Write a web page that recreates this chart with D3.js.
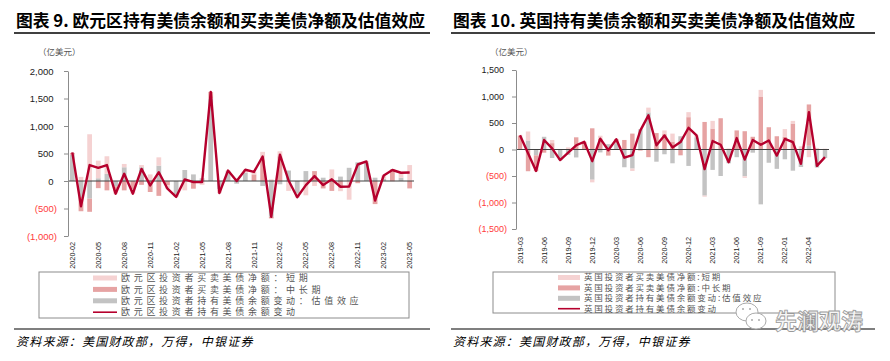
<!DOCTYPE html>
<html>
<head>
<meta charset="utf-8">
<script src="https://cdn.jsdelivr.net/npm/d3@7"></script>
<style>
  body { margin: 0; background: #fff; }
  svg { display: block; }
</style>
</head>
<body>
<svg width="890" height="361"></svg>
<script>
// 欧元区 (left chart), monthly, 2020-02 .. 2023-05
const euDates = ["2020-02","2020-03","2020-04","2020-05","2020-06","2020-07","2020-08","2020-09","2020-10","2020-11",
  "2020-12","2021-01","2021-02","2021-03","2021-04","2021-05","2021-06","2021-07","2021-08","2021-09",
  "2021-10","2021-11","2021-12","2022-01","2022-02","2022-03","2022-04","2022-05","2022-06","2022-07",
  "2022-08","2022-09","2022-10","2022-11","2022-12","2023-01","2023-02","2023-03","2023-04","2023-05"];
const euShort = [0, 75, 850, 320, 320, -50, 60, -80, 40, 120,
  150, -60, -20, -170, 0, -70, 0, -70, 10, 50,
  55, 45, 150, 30, 90, -180, -70, -260, -90, 0,
  210, -65, -340, 0, 30, 0, 60, -10, 90, 290];
const euMidLong = [30, -260, -240, -130, -170, -80, -170, -150, -70, -200,
  -270, -80, 0, 0, -140, 0, 120, 0, 0, 0,
  0, 120, 380, -30, 450, 0, 0, 0, 180, -135,
  -180, -120, 0, -40, 0, -420, 0, 210, 0, -135];
const euValuation = [480, -290, -320, 50, 130, -100, 250, 0, 250, 0,
  280, 0, -270, 200, 120, 50, 1500, -150, 180, -50,
  150, 0, -90, -650, -60, 190, -230, 180, 0, 60,
  0, 80, 240, 340, 330, 60, 40, 0, 60, 0];
const euChange = [520, -460, 290, 240, 290, -230, 130, -230, 220, -80,
  160, -140, -290, 30, -20, -20, 1620, -220, 190, 0,
  205, 165, 445, -650, 480, 10, -295, -75, 90, -75,
  30, -105, -100, 300, 355, -355, 100, 200, 150, 155];
const euTicks = [2000, 1500, 1000, 500, 0, -500, -1000];

// 英国 (right chart)
const ukDates = ["2019-03","2019-04","2019-05","2019-06","2019-07","2019-08","2019-09","2019-10","2019-11","2019-12",
  "2020-01","2020-02","2020-03","2020-04","2020-05","2020-06","2020-07","2020-08","2020-09","2020-10",
  "2020-11","2020-12","2021-01","2021-02","2021-03","2021-04","2021-05","2021-06","2021-07","2021-08",
  "2021-09","2021-10","2021-11","2022-01","2022-02","2022-03","2022-04","2022-05","2022-06"];
const ukShort = [10, 170, 0, 0, 60, 0, 40, 0, 0, -50,
  60, 0, 0, 0, -45, 0, 90, 0, 70, 150,
  0, 95, 35, -20, 145, 0, 20, 0, -30, 0,
  125, 0, 0, 145, 50, 60, -145, 30, 15];
const ukMidLong = [260, -410, -300, -60, 120, 0, 0, 230, 145, 400,
  200, -115, 75, 180, 300, -20, -145, 310, 290, 150,
  -110, 610, 0, 520, 395, 590, 0, 360, 345, 240,
  1000, 420, 250, 240, 490, 0, 780, 0, 0];
const ukValuation = [0, 170, -110, 240, -160, -200, -100, -150, 0, -570,
  -55, 100, 120, -335, -360, 380, 700, -230, -90, -260,
  250, -310, 230, -870, -385, -500, -260, -145, -505, -60,
  -1035, -250, -365, -185, -400, -330, 70, -340, -160];
const ukChange = [270, -70, -405, 180, 20, -200, -60, 80, 145, -220,
  205, -15, 195, -155, -105, 360, 645, 80, 265, 40,
  140, 410, 265, -370, 160, 90, -240, 215, -190, 180,
  90, 170, -115, 200, 140, -270, 705, -310, -145];
const ukTicks = [1500, 1000, 500, 0, -500, -1000, -1500];

const colShort = "#f5d2d2";
const colMidLong = "#e6a3a3";
const colValuation = "#c3c3c3";
const colLine = "#b5002d";
const cjk = "'Noto Sans CJK SC', sans-serif";
const num = "'Liberation Sans', Arial, sans-serif";

const svg = d3.select("svg");
svg.append("rect").attr("width", 890).attr("height", 361).attr("fill", "#fff");

// tick label: 2,000 / (500)
const fmtTick = v => v < 0 ? `(${d3.format(",")(-v)})` : d3.format(",")(v);

function drawChart(cfg) {
  const rows = cfg.dates.map((d, i) => ({
    date: d, valuation: cfg.valuation[i], midlong: cfg.midlong[i], short: cfg.short[i]
  }));

  const x = d3.scaleBand()
    .domain(cfg.dates)
    .range([cfg.left, cfg.right])
    .paddingInner(0.45)
    .paddingOuter(0.225);

  const y = d3.scaleLinear()
    .domain([cfg.ticks[cfg.ticks.length - 1], cfg.ticks[0]])
    .range([cfg.bottom, cfg.top]);

  const stack = d3.stack()
    .keys(["valuation", "midlong", "short"])
    .offset(d3.stackOffsetDiverging)(rows);

  const colors = { valuation: colValuation, midlong: colMidLong, short: colShort };

  // bars
  svg.append("g").selectAll("g")
    .data(stack).enter().append("g")
    .attr("fill", s => colors[s.key])
    .selectAll("rect")
    .data(s => s).enter().append("rect")
    .attr("x", d => x(d.data.date))
    .attr("width", x.bandwidth())
    .attr("y", d => y(Math.max(d[0], d[1])))
    .attr("height", d => Math.abs(y(d[0]) - y(d[1])));

  // zero line
  svg.append("line")
    .attr("x1", cfg.left).attr("x2", cfg.right)
    .attr("y1", y(0)).attr("y2", y(0))
    .attr("stroke", "#404040").attr("stroke-width", 1);

  // change line
  const line = d3.line()
    .x((d, i) => x(cfg.dates[i]) + x.bandwidth() / 2)
    .y(d => y(d));

  svg.append("path")
    .attr("d", line(cfg.change))
    .attr("fill", "none")
    .attr("stroke", colLine)
    .attr("stroke-width", 2.4)
    .attr("stroke-linejoin", "round");

  // y axis
  const yAxis = svg.append("g")
    .attr("transform", `translate(${cfg.left},0)`)
    .call(d3.axisLeft(y).tickValues(cfg.ticks).tickSize(4).tickSizeOuter(0).tickFormat(fmtTick));
  yAxis.select(".domain").attr("stroke", "#8c8c8c");
  yAxis.selectAll(".tick line").attr("stroke", "#8c8c8c");
  yAxis.selectAll(".tick text")
    .attr("font-family", num)
    .attr("font-size", cfg.tickSize)
    .attr("fill", d => d < 0 ? "#ff3b3b" : "#1a1a1a")
    .attr("x", d => d < 0 ? -cfg.negPad : -cfg.posPad);

  // x axis (rotated month labels)
  const shown = cfg.dates.filter((d, i) => i % 3 === 0);
  const xAxis = svg.append("g")
    .attr("transform", `translate(0,${cfg.labelTop})`)
    .call(d3.axisBottom(x).tickValues(shown).tickSize(0));
  xAxis.select(".domain").remove();
  xAxis.selectAll(".tick")
    .attr("transform", d => `translate(${x(d) + x.bandwidth() / 2},0)`);
  xAxis.selectAll(".tick text")
    .attr("font-family", num)
    .attr("font-size", 7.3)
    .attr("fill", "#1a1a1a")
    .attr("x", 0).attr("y", 0).attr("dy", "0.35em")
    .attr("transform", "rotate(-90)")
    .attr("text-anchor", "end");

  // title + rules
  svg.append("text")
    .attr("x", cfg.titleX).attr("y", 27)
    .attr("font-family", cjk).attr("font-weight", 700).attr("font-size", 16.8)
    .attr("fill", "#000")
    .text(cfg.title);
  svg.append("line")
    .attr("x1", cfg.ruleX1).attr("x2", cfg.ruleX2).attr("y1", 33).attr("y2", 33)
    .attr("stroke", "#000").attr("stroke-width", 1.6);
  svg.append("text")
    .attr("x", cfg.unitX).attr("y", 55)
    .attr("font-family", cjk).attr("font-size", 8.5).attr("fill", "#555")
    .text("（亿美元）");

  // legend
  const lg = cfg.legend;
  svg.append("rect")
    .attr("x", lg.x).attr("y", lg.y).attr("width", lg.w).attr("height", lg.h)
    .attr("fill", "none").attr("stroke", "#8c8c8c").attr("stroke-width", 1);
  const items = [
    { label: lg.labels[0], color: colShort, type: "bar" },
    { label: lg.labels[1], color: colMidLong, type: "bar" },
    { label: lg.labels[2], color: colValuation, type: "bar" },
    { label: lg.labels[3], color: colLine, type: "line" }
  ];
  const li = svg.append("g").selectAll("g")
    .data(items).enter().append("g")
    .attr("transform", (d, i) => `translate(${lg.swX},${lg.rowY + i * lg.rowGap})`);
  li.filter(d => d.type === "bar").append("rect")
    .attr("x", 0).attr("y", -2.5).attr("width", lg.swW).attr("height", 5)
    .attr("fill", d => d.color);
  li.filter(d => d.type === "line").append("line")
    .attr("x1", 0).attr("x2", lg.swW).attr("y1", 0).attr("y2", 0)
    .attr("stroke", d => d.color).attr("stroke-width", 1.6);
  li.append("text")
    .attr("x", lg.swW + 4).attr("dy", "0.35em")
    .attr("font-family", cjk).attr("font-size", lg.font).attr("fill", "#555")
    .attr("letter-spacing", lg.spacing)
    .text(d => d.label);

  // source
  svg.append("line")
    .attr("x1", cfg.ruleX1).attr("x2", cfg.ruleX2).attr("y1", 329).attr("y2", 329)
    .attr("stroke", "#000").attr("stroke-width", 1.2);
  svg.append("text")
    .attr("x", cfg.titleX).attr("y", 346)
    .attr("font-family", cjk).attr("font-size", 12).attr("font-style", "italic")
    .attr("letter-spacing", 1.2).attr("fill", "#000")
    .text("资料来源：美国财政部，万得，中银证券");
}

drawChart({
  dates: euDates, short: euShort, midlong: euMidLong, valuation: euValuation, change: euChange,
  ticks: euTicks, left: 68, right: 414, top: 71, bottom: 236, labelTop: 242,
  tickSize: 9.5, negPad: 11, posPad: 14.5,
  title: "图表 9. 欧元区持有美债余额和买卖美债净额及估值效应",
  titleX: 16, ruleX1: 14, ruleX2: 430, unitX: 38,
  legend: {
    x: 39, y: 272, w: 370, h: 46, swX: 93, swW: 24, rowY: 278, rowGap: 11.4, spacing: 3.7, font: 9,
    labels: ["欧元区投资者买卖美债净额：短期", "欧元区投资者买卖美债净额：中长期",
      "欧元区投资者持有美债余额变动：估值效应", "欧元区投资者持有美债余额变动"]
  }
});

drawChart({
  dates: ukDates, short: ukShort, midlong: ukMidLong, valuation: ukValuation, change: ukChange,
  ticks: ukTicks, left: 516, right: 829, top: 70, bottom: 229, labelTop: 237,
  tickSize: 9, negPad: 9, posPad: 12,
  title: "图表 10. 英国持有美债余额和买卖美债净额及估值效应",
  titleX: 453, ruleX1: 451, ruleX2: 875, unitX: 490,
  legend: {
    x: 493, y: 272, w: 342, h: 41, swX: 558, swW: 22, rowY: 277.5, rowGap: 10.4, spacing: 1.8, font: 8.5,
    labels: ["英国投资者买卖美债净额:短期", "英国投资者买卖美债净额:中长期",
      "英国投资者持有美债余额变动:估值效应", "英国投资者持有美债余额变动"]
  }
});

// watermark
const wm = svg.append("g");
wm.append("ellipse").attr("cx", 747).attr("cy", 312).attr("rx", 11).attr("ry", 9)
  .attr("fill", "#fff").attr("stroke", "#aaa").attr("stroke-width", 1);
wm.append("ellipse").attr("cx", 756).attr("cy", 321).attr("rx", 10).attr("ry", 8)
  .attr("fill", "#fff").attr("stroke", "#aaa").attr("stroke-width", 1);
wm.selectAll("circle").data([[743, 309], [750, 309], [752, 320], [759, 320]]).enter()
  .append("circle").attr("cx", d => d[0]).attr("cy", d => d[1]).attr("r", 1)
  .attr("fill", "#aaa");
wm.append("text")
  .attr("x", 775).attr("y", 329)
  .attr("font-family", cjk).attr("font-size", 22).attr("font-weight", 700)
  .attr("fill", "#f6f6f6").attr("stroke", "#9a9a9a").attr("stroke-width", 0.8)
  .text("先澜观涛");
</script>
</body>
</html>
